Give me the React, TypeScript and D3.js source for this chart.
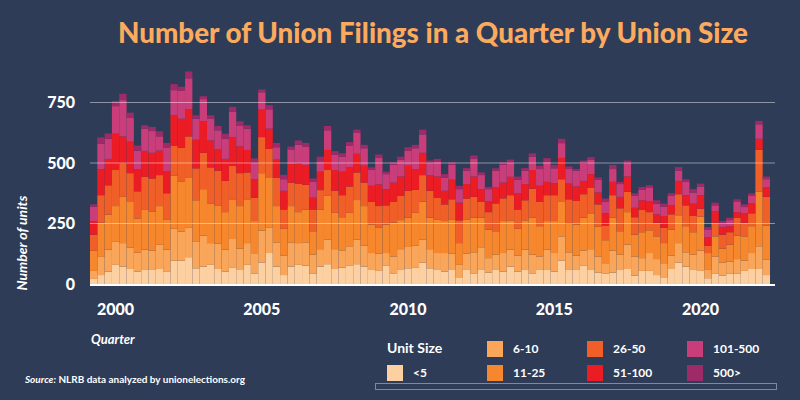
import { useEffect, useRef } from 'react';
import * as d3 from 'd3';

// quarters start at 1999 Q2
const startYear = 1999;
const startQuarter = 2;

const seriesKeys = ['<5', '6-10', '11-25', '26-50', '51-100', '101-500', '500>'];
const seriesColors = ['#fdd0a2', '#f9a65a', '#f6872c', '#f05f27', '#ec1c24', '#c93d7a', '#9f2a68'];

const under5 = [21,37,51,79,72,62,51,58,58,62, 50,96,96,111,65,72,79,62,51,69, 61,79,42,89,128,72,37,72,79,76, 42,72,82,62,68,75,82,72,58,54, 75,44,58,65,69,89,65,58,51,61, 28,58,44,58,47,58,51,72,51,61, 44,58,58,51,96,58,58,75,58,47, 42,47,61,62,35,54,54,37,28,62, 89,72,61,54,24,44,35,42,42,54, 62,62,37];
const size6to10 = [33,75,91,95,97,89,78,84,80,100, 92,132,121,121,109,128,90,105,91,117, 85,90,82,132,104,100,81,100,90,96, 79,72,101,82,71,81,101,86,70,71, 53,70,86,88,89,94,79,70,77,64, 51,67,87,91,60,63,77,70,66,81, 77,56,84,77,101,73,59,63,86,67, 44,91,60,101,79,53,74,66,58,55, 80,59,60,84,37,70,54,51,61,43, 66,94,63];
const size11to25 = [83,141,145,148,191,191,142,164,162,160, 125,219,205,206,172,192,164,158,155,164, 176,181,136,237,206,150,110,150,128,136, 97,164,181,150,137,138,164,164,118,107, 118,139,120,121,136,157,130,139,132,142, 90,142,143,125,118,97,132,121,111,121, 153,125,118,132,142,119,129,136,148,122, 95,136,97,134,90,107,94,94,83,108, 112,108,93,140,67,83,57,70,97,100, 111,225,142];
const size26to50 = [67,114,121,149,139,116,112,137,136,128, 108,125,141,172,132,150,149,143,129,139, 136,111,97,149,120,118,80,97,118,102, 90,80,107,91,91,109,114,97,93,90, 79,86,100,111,95,110,111,90,69,83, 94,86,86,65,72,115,94,104,80,83, 120,100,107,107,94,100,97,97,107,93, 61,93,95,84,72,92,75,56,63,63, 90,86,67,33,30,56,58,51,74,56, 53,173,118];
const size51to100 = [56,108,109,150,111,130,92,107,106,101, 90,125,120,112,118,130,111,90,91,118, 111,93,76,114,84,74,77,77,85,82, 49,76,83,86,97,79,77,70,67,90, 67,80,80,104,86,92,65,87,56,81, 73,60,84,53,46,66,65,76,66,67, 77,67,55,50,88,65,60,55,55,49, 50,55,47,63,39,40,46,35,49,37, 55,42,51,56,35,47,32,25,23,39, 41,46,39];
const size101to500 = [59,104,83,114,150,98,76,92,90,59, 99,104,116,128,87,92,90,77,83,104, 84,88,70,71,80,51,48,60,75,76, 65,43,81,64,62,90,86,72,66,110, 62,73,69,62,86,76,50,62,55,61, 56,55,73,58,49,69,73,57,57,55, 55,69,84,61,61,60,65,70,59,53, 48,53,53,56,49,43,56,44,38,39, 42,55,46,36,32,25,13,25,42,26, 31,60,34];
const over500 = [10,27,22,21,26,22,21,14,17,21, 19,25,16,28,14,12,14,18,21,21, 19,14,16,12,17,18,18,12,18,15, 14,19,18,14,14,14,14,14,10,13, 10,11,13,14,14,20,10,11,14,11, 14,11,14,11,9,10,11,14,13,11, 14,14,14,14,18,11,7,14,11,9, 13,17,9,10,11,12,9,14,13,11, 15,11,14,12,10,11,11,10,11,11, 10,14,11];

const yTicks = [0, 250, 500, 750];
const yearTicks = [2000, 2005, 2010, 2015, 2020];

const font = 'Lato, "Open Sans", sans-serif';

export default function App() {
  const svgRef = useRef<SVGSVGElement>(null);

  useEffect(() => {
    if (!svgRef.current) return;
    const svg = d3.select(svgRef.current);
    svg.selectAll('*').remove();

    const series = [under5, size6to10, size11to25, size26to50, size51to100, size101to500, over500];
    const n = under5.length;
    const quarterLabel = (i: number) => {
      const q = startQuarter - 1 + i;
      return `${startYear + Math.floor(q / 4)} Q${(q % 4) + 1}`;
    };
    const rows = d3.range(n).map(i => {
      const row: any = { quarter: quarterLabel(i) };
      seriesKeys.forEach((k, s) => { row[k] = series[s][i]; });
      return row;
    });

    const x = d3.scaleBand<string>()
      .domain(rows.map(d => d.quarter))
      .range([90, 770])
      .padding(0);

    const y = d3.scaleLinear()
      .domain([0, 750])
      .range([284, 102.5]);

    const stacked = d3.stack<any>().keys(seriesKeys)(rows);

    svg.append('rect')
      .attr('width', 800)
      .attr('height', 400)
      .attr('fill', '#2e3c58');

    // title
    svg.append('text')
      .attr('x', 433)
      .attr('y', 43)
      .attr('text-anchor', 'middle')
      .attr('textLength', 630)
      .attr('lengthAdjust', 'spacingAndGlyphs')
      .style('font-family', font)
      .style('font-weight', 900)
      .style('font-size', '28px')
      .style('fill', '#fbaa5e')
      .text('Number of Union Filings in a Quarter by Union Size');

    // bars
    const layers = svg.append('g')
      .selectAll('g')
      .data(stacked)
      .enter().append('g')
      .attr('fill', (d: any, i: number) => seriesColors[i]);

    layers.selectAll('rect')
      .data((d: any) => d)
      .enter().append('rect')
      .attr('x', (d: any) => x(d.data.quarter) as number)
      .attr('width', x.bandwidth())
      .attr('y', (d: any) => y(d[1]))
      .attr('height', (d: any) => y(d[0]) - y(d[1]));

    // grid lines
    svg.append('g')
      .selectAll('line')
      .data(yTicks.filter(t => t > 0))
      .enter().append('line')
      .attr('x1', 90)
      .attr('x2', 775)
      .attr('y1', d => y(d))
      .attr('y2', d => y(d))
      .attr('stroke', '#ffffff')
      .attr('stroke-opacity', 0.45)
      .attr('stroke-width', 1);

    // baseline
    svg.append('line')
      .attr('x1', 90)
      .attr('x2', 775)
      .attr('y1', y(0) + 1)
      .attr('y2', y(0) + 1)
      .attr('stroke', '#ffffff')
      .attr('stroke-width', 2);

    // y tick labels
    svg.append('g')
      .selectAll('text')
      .data(yTicks)
      .enter().append('text')
      .attr('x', 75)
      .attr('y', d => y(d))
      .attr('dy', '0.36em')
      .attr('text-anchor', 'end')
      .style('font-family', font)
      .style('font-weight', 900)
      .style('font-size', '16px')
      .style('fill', '#ffffff')
      .text(d => d);

    // x tick labels
    svg.append('g')
      .selectAll('text')
      .data(yearTicks)
      .enter().append('text')
      .attr('x', d => (x(`${d} Q1`) as number) + x.bandwidth() / 2)
      .attr('y', 315)
      .attr('text-anchor', 'middle')
      .style('font-family', font)
      .style('font-weight', 900)
      .style('font-size', '16px')
      .style('fill', '#ffffff')
      .text(d => d);

    // axis titles
    svg.append('text')
      .attr('transform', 'translate(27,243) rotate(-90)')
      .attr('text-anchor', 'middle')
      .style('font-family', font)
      .style('font-weight', 700)
      .style('font-style', 'italic')
      .style('font-size', '14px')
      .style('fill', '#ffffff')
      .text('Number of units');

    svg.append('text')
      .attr('x', 91)
      .attr('y', 344)
      .style('font-family', font)
      .style('font-weight', 700)
      .style('font-style', 'italic')
      .style('font-size', '13px')
      .style('fill', '#ffffff')
      .text('Quarter');

    // source
    const src = svg.append('text')
      .attr('x', 25)
      .attr('y', 383)
      .attr('textLength', 220)
      .attr('lengthAdjust', 'spacingAndGlyphs')
      .style('font-family', font)
      .style('font-weight', 700)
      .style('font-size', '10px')
      .style('fill', '#ffffff');
    src.append('tspan').style('font-style', 'italic').text('Source:');
    src.append('tspan').text(' NLRB data analyzed by unionelections.org');

    // legend
    svg.append('text')
      .attr('x', 387)
      .attr('y', 353)
      .style('font-family', font)
      .style('font-weight', 700)
      .style('font-size', '14px')
      .style('fill', '#ffffff')
      .text('Unit Size');

    const legendPos = [
      { col: 0, row: 1 }, { col: 1, row: 0 }, { col: 1, row: 1 },
      { col: 2, row: 0 }, { col: 2, row: 1 }, { col: 3, row: 0 }, { col: 3, row: 1 }
    ];
    const legend = svg.append('g')
      .selectAll('g')
      .data(seriesKeys)
      .enter().append('g')
      .attr('transform', (d, i) => `translate(${387 + legendPos[i].col * 100},${341 + legendPos[i].row * 24})`);

    legend.append('rect')
      .attr('width', 16)
      .attr('height', 16)
      .attr('fill', (d, i) => seriesColors[i]);

    legend.append('text')
      .attr('x', 26)
      .attr('y', 8)
      .attr('dy', '0.36em')
      .style('font-family', font)
      .style('font-weight', 700)
      .style('font-size', '12px')
      .style('fill', '#ffffff')
      .text(d => d);

    svg.append('rect')
      .attr('x', 375.5)
      .attr('y', 383.5)
      .attr('width', 401)
      .attr('height', 6)
      .attr('fill', 'none')
      .attr('stroke', '#7f889c')
      .attr('stroke-width', 1);
  }, []);

  return (
    <svg
      ref={svgRef}
      width={800}
      height={400}
      style={{ position: 'absolute', left: 0, top: 0, display: 'block' }}
    />
  );
}
